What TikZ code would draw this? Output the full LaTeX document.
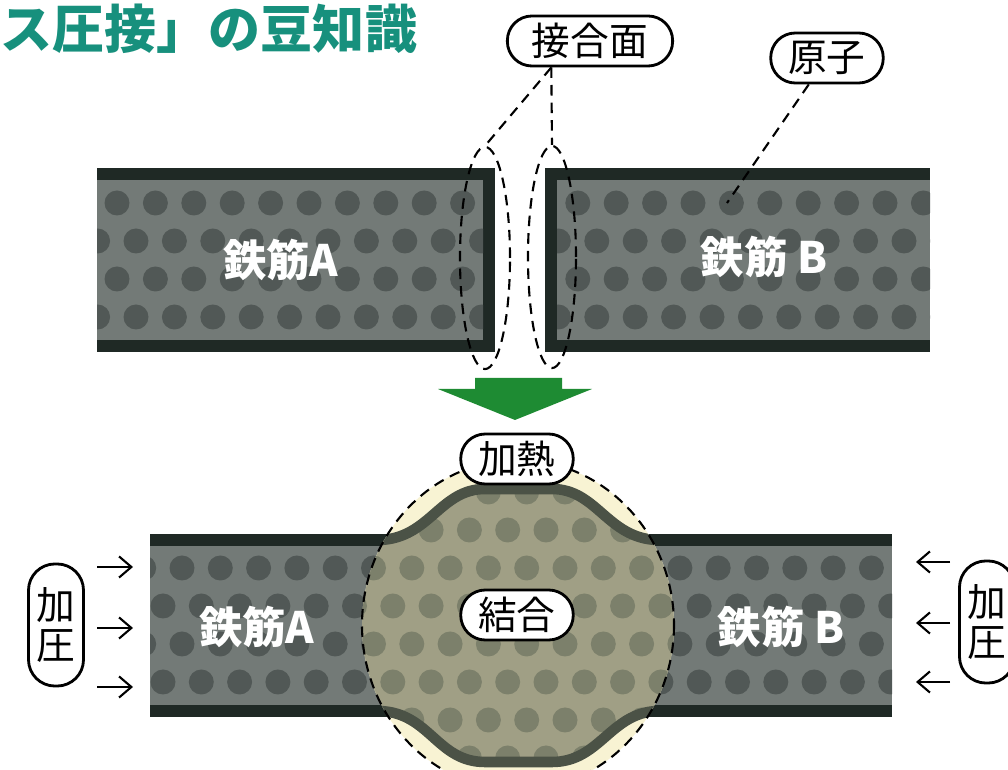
\documentclass[tikz,border=0pt]{standalone}
\usepackage{fontspec}
\newfontfamily\jp{Noto Sans CJK JP}
\usetikzlibrary{shapes.geometric, arrows.meta}

\definecolor{rodfill}{HTML}{737A77}
\definecolor{roddot}{HTML}{515856}
\definecolor{rodedge}{HTML}{1F2925}
\definecolor{joinfill}{HTML}{A09F85}
\definecolor{joindot}{HTML}{7C806B}
\definecolor{joinedge}{HTML}{4B5246}
\definecolor{heat}{HTML}{F8F3D3}
\definecolor{flow}{HTML}{1E8B33}
\definecolor{headline}{HTML}{17907D}

\tikzset{
  tag/.style={draw, line width=0.8pt, fill=white, rounded corners=7pt,
    minimum height=0.5cm, inner xsep=5pt, inner ysep=0pt,
    font=\jp\fontsize{11}{11.5}\selectfont},
  rodname/.style={text=white, inner sep=0pt, font=\jp\bfseries\fontsize{12.3}{12.3}\selectfont},
  leader/.style={line width=0.6pt, dash pattern=on 3pt off 2pt},
  face/.style={ellipse, draw, leader, minimum width=0.5cm, minimum height=2.22cm, inner sep=0pt},
  push/.style={-{Straight Barb[length=3.5pt,width=6pt]}, line width=0.6pt},
}

\begin{document}
\begin{tikzpicture}[x=0.01cm, y=-0.01cm]
  \useasboundingbox (0,0) rectangle (1008,770);

  \node[anchor=west, inner sep=0pt, text=headline, font=\jp\bfseries\fontsize{14.8}{15}\selectfont]
    (title) at (0,29) {ス圧接」の豆知識};

  % rods before welding
  \fill[rodedge] (97,168) rectangle (495,352);
  \fill[rodfill] (97,180) rectangle (483,340);
  \fill[rodedge] (545,168) rectangle (930,352);
  \fill[rodfill] (557,180) rectangle (930,340);
  \begin{scope}
    \clip (97,180) rectangle (483,340) (557,180) rectangle (930,340);
    \foreach \r in {0,...,3}
      \foreach \c in {-1,...,22}
        \fill[roddot] ({117+38.4*\c+19*mod(\r,2)},{203+38*\r}) circle[radius=12.5];
  \end{scope}
  \node[rodname] (topA) at (281,260) {鉄筋A};
  \node[rodname] (topB) at (764,257) {鉄筋 B};

  % joint faces and labels
  \node[face] (faceA) at (485,258) {};
  \node[face, minimum width=0.48cm] (faceB) at (552,257) {};
  \node[tag, inner xsep=7pt] (jointtag) at (590,41) {接合面};
  \draw[leader] ([xshift=-11pt]jointtag.south) -- (faceA.north);
  \draw[leader] ([xshift=-11pt]jointtag.south) -- (faceB.north);
  \node[tag] (atomtag) at (827,58) {原子};
  \coordinate (atom) at (727,203);
  \draw[leader] (atomtag) -- (atom);

  % arrow down
  \fill[flow] (475,378) -- (562,378) -- (562,389) -- (592,389) -- (515,420)
    -- (438,389) -- (475,389) -- cycle;

  % rods after welding
  \fill[rodedge] (150,534) rectangle (892,717);
  \fill[rodfill] (150,546) rectangle (892,705);
  \begin{scope}
    \clip (150,546) rectangle (892,705);
    \foreach \r in {2,...,5}
      \foreach \c in {-1,...,19}
        \fill[roddot] ({182+38.3*\c-19*mod(\r,2)},{492+38*\r}) circle[radius=12.5];
  \end{scope}

  % heated zone with the bulge
  \def\bulge{(300,540) -- (380,540) .. controls (430,538) and (440,489) .. (485,489)
    -- (552,489) .. controls (597,489) and (607,538) .. (657,540) -- (740,540)
    -- (740,711) -- (657,711) .. controls (610,713) and (600,762) .. (552,762)
    -- (485,762) .. controls (437,762) and (430,713) .. (380,711) -- (300,711) -- cycle}
  \fill[heat] (518,625) ellipse [x radius=156, y radius=165];
  \begin{scope}
    \clip (518,625) ellipse [x radius=156, y radius=165];
    \begin{scope}
      \clip \bulge;
      \fill[joinfill] (300,470) rectangle (740,780);
      \foreach \r in {0,...,7}
        \foreach \c in {4,...,14}
          \fill[joindot] ({182+38.3*\c-19*mod(\r,2)},{492+38*\r}) circle[radius=12.5];
    \end{scope}
    \draw[joinedge, line width=3pt] (300,540) -- (380,540) .. controls (430,538) and (440,489) .. (485,489)
      -- (552,489) .. controls (597,489) and (607,538) .. (657,540) -- (740,540);
    \draw[joinedge, line width=3pt] (300,711) -- (380,711) .. controls (430,713) and (437,762) .. (485,762)
      -- (552,762) .. controls (600,762) and (610,713) .. (657,711) -- (740,711);
  \end{scope}
  \draw[leader] (518,625) ellipse [x radius=156, y radius=165];

  \node[tag] (heattag) at (517,459) {加熱};
  \node[tag] (bondtag) at (517,615) {結合};
  \node[rodname] (botA) at (257,627) {鉄筋A};
  \node[rodname] (botB) at (781,627) {鉄筋 B};

  % pressing from both ends
  \node[tag, align=center, inner xsep=0pt, minimum width=0.55cm, minimum height=1.22cm,
    rounded corners=7.5pt] (pressL) at (56,625) {加\\圧};
  \node[tag, align=center, inner xsep=0pt, minimum width=0.55cm, minimum height=1.22cm,
    rounded corners=7.5pt] (pressR) at (987,622) {加\\圧};
  \foreach \y [count=\i] in {567,628,687} {
    \coordinate (pl\i) at (97,\y);
    \coordinate (ql\i) at (133,\y);
    \draw[push] (pl\i) -- (ql\i);
  }
  \foreach \y [count=\i] in {562,623,682} {
    \coordinate (pr\i) at (950,\y);
    \coordinate (qr\i) at (916,\y);
    \draw[push] (pr\i) -- (qr\i);
  }
\end{tikzpicture}
\end{document}
